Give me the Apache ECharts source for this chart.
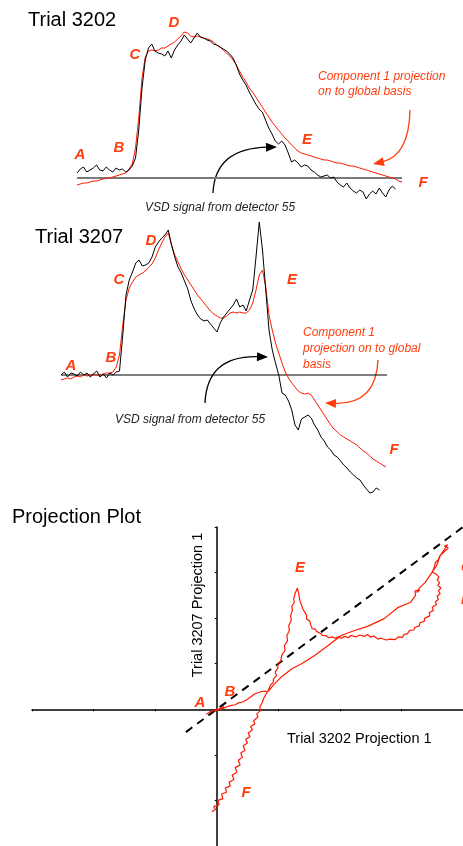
<!DOCTYPE html>
<html><head><meta charset="utf-8">
<script src="https://cdn.jsdelivr.net/npm/echarts@6/dist/echarts.min.js"></script>
<style>html,body{margin:0;padding:0;background:#fff}#c{width:463px;height:846px}</style>
</head><body><div id="c"></div>
<script>
// Trial 3202 (top panel), samples at equal time steps
const vsd3202 = [5,9,11,6,8,10,13,8,7,11,8,6,10,8,9,6,8,12,20,48,90,118,130,134,127,125,124,122,127,120,128,133,137,143,139,135,140,145,141,140,138,137,134,133,131,129,127,124,120,113,104,98,93,86,80,74,69,66,58,50,44,37,34,37,33,25,16,18,15,11,13,12,8,6,3,1,2,3,0,1,-4,-7,-9,-5,-10,-13,-15,-12,-14,-21,-16,-13,-16,-10,-15,-19,-12,-8,-11];
const comp3202 = [-7,-6,-5,-5,-4,-3,-3,-2,-1,0,0,1,2,3,4,5,9,14,30,60,100,121,127,128,127,128,130,130,132,134,136,139,142,146,145,142,141,142,141,140,139,138,136,133,131,128,125,122,118,113,107,101,96,90,86,81,76,71,66,61,56,52,48,44,40,37,33,30,27,25,24,23,22,21,20,19,18,18,17,16,15,15,14,13,12,12,11,10,9,8,7,6,5,4,3,2,1,0,-1,-3,-4];
// Trial 3207 (middle panel)
const vsd3207 = [0,3,-2,2,1,-1,3,0,2,-2,1,4,-2,1,-3,2,0,3,4,40,80,95,103,112,115,109,110,112,118,128,133,137,140,145,130,118,108,102,94,86,74,66,60,56,54,55,51,47,43,52,58,62,66,70,76,68,70,64,75,85,118,153,125,85,45,25,12,0,-18,-20,-26,-35,-50,-55,-44,-42,-40,-43,-50,-55,-62,-66,-72,-75,-80,-82,-86,-90,-93,-97,-100,-103,-105,-110,-114,-118,-117,-113,-115];
const comp3207 = [-5,-4,-3,-4,-2,-1,-2,0,-1,0,1,0,0,1,2,2,3,8,20,50,75,87,93,98,100,102,104,108,111,117,125,132,138,142,130,120,113,106,100,95,90,85,80,76,72,68,64,61,59,57,57,59,62,63,62,63,62,62,65,72,85,100,105,88,60,45,32,22,12,3,-3,-8,-12,-16,-18,-19,-18,-20,-25,-30,-35,-40,-45,-50,-54,-57,-60,-62,-64,-66,-68,-70,-73,-76,-78,-81,-84,-86,-88,-90,-92];
// Projection plot trajectory (Trial 3202 proj 1 vs Trial 3207 proj 1)
const projX = [-0.17,-0.10,-0.12,-0.04,0.02,-0.02,0.06,0.12,0.08,0.16,0.22,0.30,0.35,0.42,0.49,0.55,0.62,0.73,0.84,0.92,1.05,1.22,1.38,1.59,1.81,2.02,2.24,2.45,2.72,2.94,3.15,3.23,3.22,3.30,3.25,3.29,3.39,3.50,3.57,3.63,3.72,3.75,3.70,3.76,
 3.66,3.62,3.60,3.55,3.53,3.50,3.56,3.61,3.58,3.62,3.59,3.64,3.60,3.63,3.58,3.60,3.55,3.57,3.50,3.52,3.45,3.46,3.38,3.37,3.30,3.29,3.22,3.20,3.13,3.10,3.04,3.02,2.95,2.90,2.82,2.75,2.67,2.62,2.55,2.50,2.45,2.40,2.32,2.27,2.18,2.14,2.08,2.02,1.97,1.92,1.88,1.82,1.78,1.72,1.68,1.62,1.60,1.55,1.53,1.50,1.51,1.46,1.46,1.40,1.35,1.33,1.31,
 1.29,1.27,1.25,1.26,1.22,1.23,1.20,1.21,1.17,1.18,1.14,1.15,1.10,1.11,1.06,1.04,1.00,0.99,0.95,0.97,0.92,0.92,0.87,0.84,0.80,0.76,0.74,0.70,0.71,0.65,0.67,0.60,0.62,0.55,0.58,0.51,0.54,0.47,0.50,0.43,0.46,0.39,0.42,0.35,0.38,0.30,0.33,0.25,0.28,0.20,0.22,0.14,0.16,0.08,0.10,0.02,0.04,-0.05,-0.02,-0.08];
const projY = [-0.11,-0.05,-0.09,-0.03,0.02,-0.04,0.02,0.06,0.01,0.05,0.08,0.10,0.14,0.16,0.21,0.27,0.34,0.39,0.40,0.53,0.71,0.89,1.00,1.18,1.40,1.62,1.73,1.82,1.99,2.23,2.35,2.50,2.60,2.62,2.56,2.66,2.79,3.01,3.15,3.37,3.55,3.61,3.58,3.54,
 3.41,3.36,3.28,3.22,3.10,3.01,2.97,2.90,2.84,2.78,2.72,2.66,2.60,2.54,2.48,2.41,2.36,2.30,2.24,2.17,2.12,2.05,2.00,1.93,1.90,1.83,1.80,1.74,1.73,1.66,1.64,1.58,1.59,1.53,1.54,1.52,1.56,1.54,1.61,1.58,1.64,1.60,1.63,1.59,1.62,1.57,1.60,1.56,1.59,1.56,1.59,1.57,1.61,1.62,1.67,1.71,1.76,1.77,1.84,1.88,1.94,1.98,2.06,2.20,2.39,2.55,2.66,
 2.62,2.53,2.43,2.35,2.26,2.17,2.06,1.95,1.84,1.73,1.62,1.50,1.40,1.29,1.20,1.07,1.00,0.89,0.82,0.74,0.66,0.60,0.52,0.42,0.33,0.23,0.15,0.05,-0.03,-0.10,-0.17,-0.25,-0.32,-0.38,-0.45,-0.52,-0.60,-0.66,-0.74,-0.80,-0.90,-0.96,-1.05,-1.12,-1.22,-1.28,-1.38,-1.45,-1.54,-1.60,-1.68,-1.73,-1.82,-1.86,-1.96,-2.00,-2.10,-2.13,-2.20,-2.25];
const diagX = [-0.5, 4];
const diagY = [-0.5, 4];
const pointLabels = ['A','B','C','D','E','F'];

const RED = '#ff1a00', LAB = '#ff3d0d', FONT = 'Liberation Sans, Arial, sans-serif';
const idx = a => a.map((v,i)=>[i,v]);
const chart = echarts.init(document.getElementById('c'));

function txt(x,y,t,o){ return {type:'text', x, y, style:Object.assign({text:t, fontFamily:FONT, fontSize:12, fill:'#000', textVerticalAlign:'middle'}, o||{})}; }
function lab(x,y,t){ return txt(x,y,t,{fill:LAB, fontSize:15, fontWeight:'bold', fontStyle:'italic', textAlign:'center'}); }
function arrow(x1,y1,cx,cy,x2,y2,color){
  const a=Math.atan2(y2-cy,x2-cx), c=Math.cos(a), s=Math.sin(a), L=11, W=4.5;
  const bx=x2-L*c, by=y2-L*s;
  return [
    {type:'bezierCurve', shape:{x1,y1,x2:bx+2*c,y2:by+2*s,cpx1:cx,cpy1:cy}, style:{stroke:color, lineWidth:1.3, fill:null}},
    {type:'polygon', shape:{points:[[x2,y2],[bx-W*s,by+W*c],[bx+W*s,by-W*c]]}, style:{fill:color}}
  ];
}
const topL = [[80,155],[119,148],[135,55],[174,23],[307,140],[423,183]];
const midL = [[71,366],[111,358],[119,280],[151,241],[292,280],[394,450]];
const graphics = [
  txt(28,20,'Trial 3202',{fontSize:20}),
  txt(35,237,'Trial 3207',{fontSize:20}),
  txt(12,517,'Projection Plot',{fontSize:20}),
  ...topL.map((p,i)=>lab(p[0],p[1],pointLabels[i])),
  ...midL.map((p,i)=>lab(p[0],p[1],pointLabels[i])),
  lab(200,703,'A'), lab(230,692,'B'), lab(300,568,'E'), lab(246,793,'F'),
  txt(461,568,'C',{fill:LAB,fontSize:15,fontWeight:'bold',fontStyle:'italic'}),
  txt(461,600,'D',{fill:LAB,fontSize:15,fontWeight:'bold',fontStyle:'italic'}),
  txt(318,77,'Component 1 projection',{fill:LAB,fontStyle:'italic'}),
  txt(318,92,'on to global basis',{fill:LAB,fontStyle:'italic'}),
  txt(145,208,'VSD signal from detector 55',{fill:'#222',fontStyle:'italic'}),
  txt(303,333,'Component 1',{fill:LAB,fontStyle:'italic'}),
  txt(303,349,'projection on to global',{fill:LAB,fontStyle:'italic'}),
  txt(303,365,'basis',{fill:LAB,fontStyle:'italic'}),
  txt(115,420,'VSD signal from detector 55',{fill:'#222',fontStyle:'italic'}),
  ...arrow(410,110,409,156,373,164,LAB),
  ...arrow(213,193,215,148,277,147,'#000'),
  ...arrow(378,360,376,405,325,403,LAB),
  ...arrow(205,403,207,355,268,357,'#000'),
  {type:'text', x:198, y:605, rotation:Math.PI/2, style:{text:'Trial 3207 Projection 1', fontFamily:FONT, fontSize:14.5, fill:'#000', textAlign:'center', textVerticalAlign:'middle'}},
  txt(287,739,'Trial 3202 Projection 1',{fontSize:14.5})
];

const hid = {show:false};
chart.setOption({
  animation:false,
  backgroundColor:'#fff',
  grid:[
    {left:77, top:28, width:325, height:175},
    {left:61, top:215, width:325, height:290},
    {left:32, top:527, width:434, height:319}
  ],
  xAxis:[
    {gridIndex:0, type:'value', min:0, max:100, show:false},
    {gridIndex:1, type:'value', min:0, max:100, show:false},
    {gridIndex:2, type:'value', min:-3, max:4, interval:1,
     axisLine:{onZero:true, lineStyle:{color:'#000', width:1.5}}, axisTick:{show:true, length:2, lineStyle:{color:'#000'}},
     axisLabel:hid, splitLine:hid}
  ],
  yAxis:[
    {gridIndex:0, type:'value', min:-25, max:150, show:false},
    {gridIndex:1, type:'value', min:-130, max:160, show:false},
    {gridIndex:2, type:'value', min:-3, max:4, interval:1,
     axisLine:{onZero:true, lineStyle:{color:'#000', width:1.5}}, axisTick:{show:true, length:2, lineStyle:{color:'#000'}},
     axisLabel:hid, splitLine:hid}
  ],
  series:[
    {type:'line', xAxisIndex:0, yAxisIndex:0, data:[[0,0],[100,0]], symbol:'none', lineStyle:{color:'#7a7a7a', width:2}, silent:true},
    {type:'line', xAxisIndex:0, yAxisIndex:0, data:idx(comp3202), symbol:'none', lineStyle:{color:RED, width:1}},
    {type:'line', xAxisIndex:0, yAxisIndex:0, data:idx(vsd3202), symbol:'none', lineStyle:{color:'#000', width:1}},
    {type:'line', xAxisIndex:1, yAxisIndex:1, data:[[0,0],[100.3,0]], symbol:'none', lineStyle:{color:'#000', width:1}, silent:true},
    {type:'line', xAxisIndex:1, yAxisIndex:1, data:idx(comp3207), symbol:'none', lineStyle:{color:RED, width:1}},
    {type:'line', xAxisIndex:1, yAxisIndex:1, data:idx(vsd3207), symbol:'none', lineStyle:{color:'#000', width:1}},
    {type:'line', xAxisIndex:2, yAxisIndex:2, data:diagX.map((x,i)=>[x,diagY[i]]), symbol:'none', lineStyle:{color:'#000', width:2, type:[8,6]}},
    {type:'line', xAxisIndex:2, yAxisIndex:2, data:projX.map((x,i)=>[x,projY[i]]), symbol:'none', lineStyle:{color:RED, width:1.2}}
  ],
  graphic:graphics
});
</script></body></html>
